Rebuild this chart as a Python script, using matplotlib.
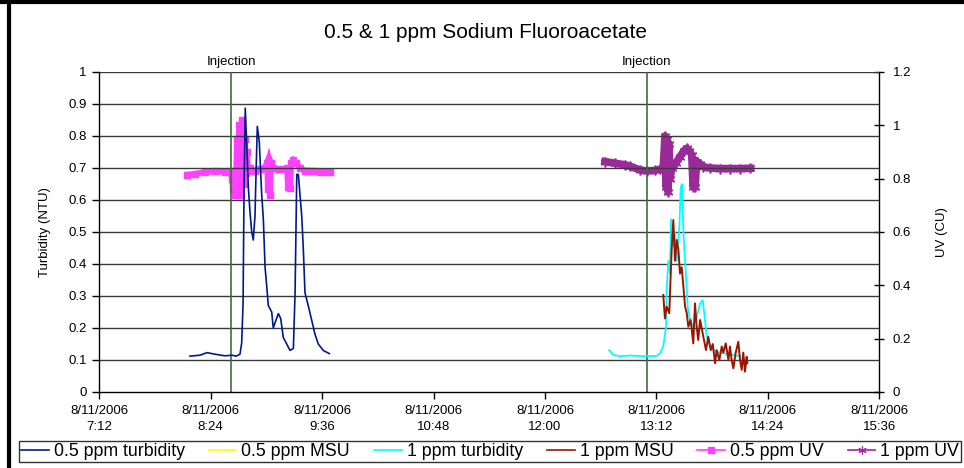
import numpy as np
import pandas as pd
import matplotlib
matplotlib.use('Agg')
import matplotlib.pyplot as plt
from matplotlib.lines import Line2D

plt.rcParams['font.family'] = ['Liberation Sans', 'DejaVu Sans']

# values, time of day on 8/11/2006
turb05_time = ["08:10:36", "08:17:04", "08:21:36", "08:26:48", "08:33:12", "08:37:48", "08:40:24", "08:42:54",
               "08:44:00", "08:44:54", "08:45:30", "08:46:18", "08:47:12", "08:48:18", "08:49:24", "08:50:30",
               "08:51:30", "08:52:36", "08:53:18", "08:54:06", "08:55:24", "08:56:54", "08:58:00", "08:59:06",
               "09:00:12", "09:01:12", "09:03:24", "09:04:24", "09:06:12", "09:07:42", "09:09:12", "09:10:54",
               "09:13:06", "09:15:12", "09:17:24", "09:18:30", "09:19:36", "09:20:36", "09:22:48", "09:23:48",
               "09:24:54", "09:27:00", "09:29:12", "09:31:24", "09:33:30", "09:36:42", "09:40:36"]
turb05_val = [0.112, 0.115, 0.123, 0.118, 0.113, 0.115, 0.112, 0.118,
              0.153, 0.278, 0.62, 0.887, 0.78, 0.64, 0.56, 0.50,
              0.475, 0.55, 0.69, 0.83, 0.78, 0.62, 0.54, 0.39,
              0.33, 0.27, 0.25, 0.20, 0.225, 0.245, 0.23, 0.17,
              0.15, 0.13, 0.136, 0.31, 0.68, 0.68, 0.55, 0.45,
              0.31, 0.27, 0.225, 0.18, 0.15, 0.13, 0.12]

# 0.5 ppm MSU has no points on the chart, only a legend entry
msu05_time = []
msu05_val = []

turb1_time = ["12:41:30", "12:44:06", "12:48:30", "12:54:54", "13:01:24", "13:05:42", "13:12:12", "13:14:18",
              "13:16:24", "13:18:12", "13:18:36", "13:19:42", "13:20:48", "13:21:24", "13:22:30", "13:24:00",
              "13:25:06", "13:26:48", "13:27:42", "13:28:30", "13:29:24", "13:31:06", "13:32:12", "13:33:42",
              "13:35:48", "13:38:00", "13:40:12", "13:41:54", "13:42:54", "13:44:30", "13:46:36", "13:48:42",
              "13:53:06", "13:57:24", "14:01:42", "14:06:00"]
turb1_val = [0.131, 0.116, 0.112, 0.114, 0.112, 0.112, 0.113, 0.121,
             0.142, 0.204, 0.32, 0.41, 0.37, 0.54, 0.454, 0.50,
             0.41, 0.517, 0.64, 0.65, 0.50, 0.36, 0.267, 0.225,
             0.204, 0.235, 0.277, 0.2875, 0.246, 0.173, 0.142, 0.131,
             0.123, 0.119, 0.115, 0.112]

msu1_time = ["13:16:24", "13:17:30", "13:18:36", "13:20:18", "13:21:54", "13:22:54", "13:24:00", "13:25:06",
             "13:26:12", "13:27:12", "13:28:18", "13:29:24", "13:30:30", "13:31:36", "13:32:36", "13:34:06",
             "13:35:48", "13:36:54", "13:38:00", "13:39:00", "13:40:12", "13:42:18", "13:44:00", "13:45:30",
             "13:47:06", "13:48:24", "13:49:54", "13:50:54", "13:52:36", "13:54:12", "13:55:12", "13:56:48",
             "13:58:30", "13:59:30", "14:00:36", "14:01:42", "14:03:12", "14:04:54", "14:06:00", "14:07:06",
             "14:08:06", "14:09:12", "14:10:18", "14:10:42"]
msu1_val = [0.303, 0.23, 0.267, 0.246, 0.454, 0.5375, 0.41, 0.475,
            0.444, 0.37, 0.39, 0.33, 0.267, 0.246, 0.204, 0.225,
            0.152, 0.277, 0.204, 0.1625, 0.225, 0.173, 0.131, 0.173,
            0.131, 0.15, 0.09, 0.131, 0.10, 0.142, 0.123, 0.152,
            0.10, 0.142, 0.10, 0.074, 0.123, 0.157, 0.10, 0.069,
            0.123, 0.0635, 0.11, 0.09]

uv05_time = ["08:08:40", "08:13:50", "08:20:18", "08:26:46", "08:33:13", "08:36:27", "08:37:45", "08:38:24",
             "08:39:02", "08:39:42", "08:40:20", "08:40:59", "08:41:38", "08:42:17", "08:42:55", "08:43:34",
             "08:44:12", "08:44:52", "08:45:30", "08:46:09", "08:46:48", "08:47:26", "08:48:05", "08:49:23",
             "08:52:36", "08:55:50", "08:59:04", "09:00:22", "09:01:00", "09:01:39", "09:02:18", "09:02:56",
             "09:04:14", "09:07:30", "09:10:42", "09:13:18", "09:13:54", "09:14:36", "09:15:12", "09:15:52",
             "09:17:12", "09:19:06", "09:21:42", "09:24:54", "09:28:12", "09:31:24", "09:34:36", "09:37:54",
             "09:41:06"]
uv05_val = [0.815, 0.818, 0.825, 0.827, 0.826, 0.828, 0.80, 0.76,
            0.82, 0.74, 0.79, 0.95, 0.75, 1.0, 0.80, 0.74,
            1.02, 0.88, 0.78, 0.95, 0.82, 0.90, 0.83, 0.84,
            0.83, 0.835, 0.84, 0.86, 0.76, 0.85, 0.74, 0.86,
            0.84, 0.835, 0.835, 0.84, 0.77, 0.83, 0.765, 0.86,
            0.87, 0.86, 0.84, 0.83, 0.83, 0.828, 0.826, 0.826,
            0.826]

uv1_time = ["12:38:48", "12:45:12", "12:51:42", "12:54:54", "13:01:24", "13:05:42", "13:11:06", "13:14:18",
            "13:16:24", "13:17:30", "13:18:12", "13:18:48", "13:19:30", "13:20:06", "13:20:48", "13:21:54",
            "13:24:42", "13:27:12", "13:29:48", "13:31:36", "13:33:06", "13:34:48", "13:35:42", "13:36:18",
            "13:37:00", "13:38:00", "13:40:12", "13:42:18", "13:46:36", "13:53:06", "13:59:30", "14:06:00",
            "14:12:30"]
uv1_val = [0.864, 0.858, 0.852, 0.846, 0.833, 0.829, 0.831, 0.835,
           0.84, 0.96, 0.77, 0.95, 0.75, 0.93, 0.80, 0.84,
           0.86, 0.882, 0.905, 0.914, 0.905, 0.89, 0.77, 0.87,
           0.77, 0.864, 0.855, 0.845, 0.84, 0.838, 0.838, 0.838,
           0.839]

inject_time = ["08:37:18", "13:05:42"]

tick_time = ["07:12", "08:24", "09:36", "10:48", "12:00", "13:12", "14:24", "15:36"]
tick_labels = ["8/11/2006\n" + t.lstrip("0") for t in tick_time]
left_ticks = [0, 0.1, 0.2, 0.3, 0.4, 0.5, 0.6, 0.7, 0.8, 0.9, 1]
left_labels = ["0", "0.1", "0.2", "0.3", "0.4", "0.5", "0.6", "0.7", "0.8", "0.9", "1"]
right_ticks = [0, 0.2, 0.4, 0.6, 0.8, 1.0, 1.2]
right_labels = ["0", "0.2", "0.4", "0.6", "0.8", "1", "1.2"]


def hrs(times):
    # "HH:MM[:SS]" -> hours after midnight
    times = [t if t.count(":") == 2 else t + ":00" for t in times]
    return np.asarray(pd.to_timedelta(times).total_seconds()) / 3600.0


W, H = 964, 468
fig = plt.figure(figsize=(W / 100, H / 100), dpi=100)
ax = fig.add_axes([99.3 / W, 1 - 392 / H, 780 / W, 320 / H])
ax2 = ax.twinx()
ax.set_zorder(ax2.get_zorder() + 1)
ax.patch.set_visible(False)

# gridlines
for v in left_ticks[1:]:
    ax.axhline(v, color='#3a3a3a', lw=1.0, zorder=0)

for t in hrs(inject_time):
    ax.axvline(t, color='#3d6e3d', lw=1.2, zorder=1)
    ax.text(t, 1.0 + 10 / 320, 'Injection', transform=ax.get_xaxis_transform(),
            ha='center', va='center', fontsize=9.5)

ax.plot(hrs(turb05_time), turb05_val, color='#001a8c', lw=1.2, zorder=3)
ax.plot(msu05_time, msu05_val, color='#ffff00', lw=1.2)
ax.plot(hrs(turb1_time), turb1_val, color='#00ffff', lw=1.3, zorder=3)
ax.plot(hrs(msu1_time), msu1_val, color='#9a1500', lw=1.4, zorder=4)

ax2.plot(hrs(uv05_time), uv05_val, color='#ff40ff', lw=4.2, marker='s', ms=4.5,
         mec='#ff40ff', solid_joinstyle='miter')
ax2.plot(hrs(uv1_time), uv1_val, color='#9a2a9a', lw=5.5, marker=(6, 2, 0), ms=7,
         mec='#9a2a9a', mew=1.2)

ax.set_xlim(hrs(["07:12"])[0], hrs(["15:36"])[0])
ax.set_ylim(0, 1)
ax2.set_ylim(0, 1.2)
ax.set_xticks(hrs(tick_time))
ax.set_xticklabels(tick_labels, fontsize=9.5, linespacing=1.5)
ax.set_yticks(left_ticks)
ax.set_yticklabels(left_labels, fontsize=9.5)
ax2.set_yticks(right_ticks)
ax2.set_yticklabels(right_labels, fontsize=9.5)
ax.tick_params(axis='both', direction='out', length=5, width=1, color='black', pad=4)
ax2.tick_params(axis='y', direction='inout', length=7, width=1, color='black', pad=6)

for a in (ax, ax2):
    for s in a.spines.values():
        s.set_visible(False)
ax.spines['left'].set_visible(True)
ax.spines['bottom'].set_visible(True)
ax2.spines['right'].set_visible(True)
for s in (ax.spines['left'], ax.spines['bottom'], ax2.spines['right']):
    s.set_color('black')
    s.set_linewidth(1.0)

fig.text(486 / W, 1 - 33 / H, '0.5 & 1 ppm Sodium Fluoroacetate', ha='center', va='center', fontsize=15)
fig.text(45 / W, 1 - 232 / H, 'Turbidity (NTU)', rotation=90, ha='center', va='center', fontsize=9.5)
fig.text(942 / W, 1 - 232 / H, 'UV (CU)', rotation=90, ha='center', va='center', fontsize=9.5)

handles = [
    Line2D([], [], color='#001a8c', lw=1.2),
    Line2D([], [], color='#ffff00', lw=1.2),
    Line2D([], [], color='#00ffff', lw=1.2),
    Line2D([], [], color='#9a1500', lw=1.2),
    Line2D([], [], color='#ff40ff', lw=1.2, marker='s', ms=4),
    Line2D([], [], color='#9a2a9a', lw=1.2, marker=(6, 2, 0), ms=6, mew=0.8),
]
labels = ['0.5 ppm turbidity', '0.5 ppm MSU', '1 ppm turbidity', '1 ppm MSU', '0.5 ppm UV', '1 ppm UV']
leg = fig.legend(handles, labels, loc='lower left', bbox_to_anchor=(19 / W, 6 / H), ncol=6,
                 fontsize=12.8, frameon=True, fancybox=False, edgecolor='black', numpoints=1,
                 handlelength=1.55, handletextpad=0.28, columnspacing=1.36, borderpad=0.12,
                 borderaxespad=0)
leg.get_frame().set_linewidth(1.0)

# outer frame of the pasted chart
fig.add_artist(Line2D([9 / W, 9 / W], [0, 1], color='black', lw=3, transform=fig.transFigure))
fig.add_artist(Line2D([0, 1], [1 - 2 / H, 1 - 2 / H], color='black', lw=3, transform=fig.transFigure))

fig.savefig('out.png', dpi=100)
